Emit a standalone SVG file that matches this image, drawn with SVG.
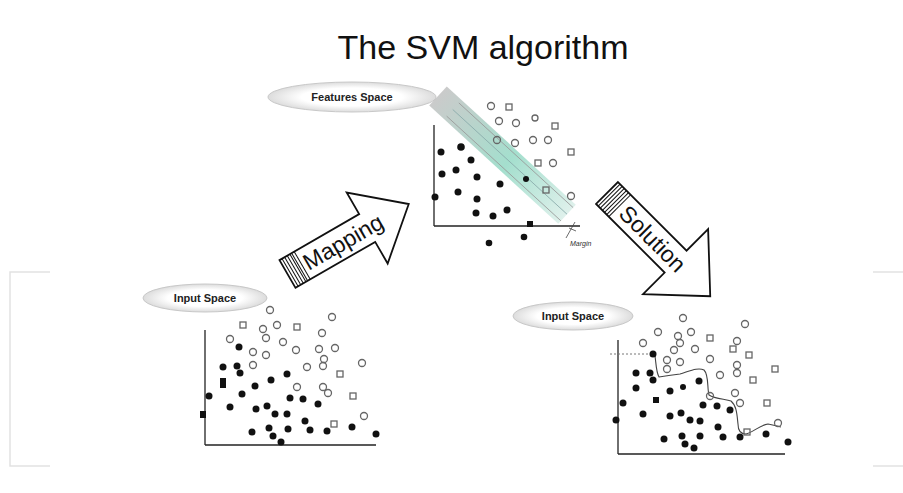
<svg xmlns="http://www.w3.org/2000/svg" width="903" height="493" viewBox="0 0 903 493">
<defs>
<style>
.title{font-family:"Liberation Sans",Arial,sans-serif;font-size:34px;fill:#111}
.lbl{font-family:"Liberation Sans",Arial,sans-serif;font-size:11px;font-weight:bold;fill:#222}
.big{font-family:"Liberation Sans",Arial,sans-serif;font-size:23px;fill:#111}
.ax{stroke:#222;stroke-width:1.3;fill:none}
.f{fill:#111}
.o{fill:none;stroke:#666;stroke-width:1.3}
.arr{fill:#fff;stroke:#111;stroke-width:1.8;stroke-linejoin:miter}
.str{stroke:#111;stroke-width:1}
.frame{stroke:#e2e2e2;stroke-width:1.5;fill:none}
.ell{fill:url(#eg);stroke:#c8c8c8;stroke-width:1}
</style>
<radialGradient id="eg" cx="0.5" cy="0.5" r="0.5">
<stop offset="0.6" stop-color="#ffffff"/>
<stop offset="1" stop-color="#dcdcdc"/>
</radialGradient>
<linearGradient id="band" x1="0" y1="0" x2="1" y2="0">
<stop offset="0" stop-color="#b9b9b9"/>
<stop offset="0.55" stop-color="#86d4bd"/>
<stop offset="1" stop-color="#d4ece5"/>
</linearGradient>
</defs>
<rect width="903" height="493" fill="#fff"/>

<g id="frame">
<path class="frame" d="M50,272 H10 V466 H50"/>
<path class="frame" d="M873,272 H903 M873,466 H903"/>
</g>

<text class="title" x="483" y="59" text-anchor="middle">The SVM algorithm</text>

<g id="features-space">
<ellipse class="ell" cx="352" cy="97" rx="84" ry="15"/>
<text class="lbl" x="352" y="101" text-anchor="middle">Features Space</text>
</g>

<g id="features-plot">
<g transform="translate(438,96) rotate(42.5)">
<rect x="0" y="-13" width="175" height="26" fill="url(#band)" opacity="0.75"/>
<line x1="20" y1="-9" x2="175" y2="-9" stroke="#999" stroke-width="0.8"/>
<line x1="20" y1="0" x2="175" y2="0" stroke="#8aa" stroke-width="0.8"/>
<line x1="20" y1="9" x2="175" y2="9" stroke="#999" stroke-width="0.8"/>
</g>
<path class="ax" d="M434,226 V125"/>
<path class="ax" d="M434,226 H580"/>
<circle class="f" cx="441" cy="152" r="3.5"/><circle class="f" cx="461" cy="147" r="3.8"/>
<circle class="f" cx="471" cy="160" r="3.5"/><circle class="f" cx="442" cy="174" r="3.5"/>
<circle class="f" cx="456" cy="170" r="3.5"/><circle class="f" cx="477" cy="177" r="3.5"/>
<circle class="f" cx="500" cy="184" r="3.5"/><circle class="f" cx="526" cy="179" r="3"/>
<circle class="f" cx="435" cy="197" r="3.5"/><circle class="f" cx="458" cy="192" r="3.5"/>
<circle class="f" cx="477" cy="199" r="3.5"/><circle class="f" cx="476" cy="213" r="3.5"/>
<circle class="f" cx="493" cy="216" r="3.5"/><circle class="f" cx="507" cy="210" r="3.5"/>
<rect class="f" x="527" y="221" width="6" height="6"/><circle class="f" cx="524" cy="237" r="3.3"/>
<circle class="f" cx="489" cy="243" r="3.3"/>
<circle class="o" cx="491" cy="106" r="3.5"/><rect class="o" x="506" y="104" width="6" height="6"/>
<circle class="o" cx="499" cy="121" r="3.5"/><circle class="o" cx="516" cy="123" r="3.5"/>
<circle class="o" cx="535" cy="118" r="3"/><rect class="o" x="552" y="123" width="6" height="6"/>
<circle class="o" cx="497" cy="140" r="3.5"/><circle class="o" cx="515" cy="143" r="3.5"/>
<circle class="o" cx="533" cy="140" r="3.5"/><circle class="o" cx="548" cy="140" r="3.5"/>
<rect class="o" x="568" y="149" width="6" height="6"/><rect class="o" x="535" y="160" width="6" height="6"/>
<circle class="o" cx="553" cy="163" r="3.5"/><rect class="o" x="543" y="187" width="6" height="6"/>
<circle class="o" cx="571" cy="196" r="3.5"/>
<path d="M566,238 L575,222" stroke="#444" stroke-width="0.8"/>
<path d="M569,228 L576,231" stroke="#444" stroke-width="0.8"/>
<text x="570" y="246" font-family="Liberation Sans,Arial,sans-serif" font-size="7" font-style="italic" fill="#333">Margin</text>
</g>

<g id="mapping-arrow" transform="translate(287.5,274) rotate(-30)">
<path class="arr" d="M0,-16 H92 V-41 L140,0 L92,41 V16 H0 Z"/>
<line class="str" x1="3" y1="-16" x2="3" y2="16"/>
<line class="str" x1="6" y1="-16" x2="6" y2="16"/>
<line class="str" x1="9" y1="-16" x2="9" y2="16"/>
<line class="str" x1="12" y1="-16" x2="12" y2="16"/>
<line class="str" x1="14" y1="-16" x2="14" y2="16"/>
<line class="str" x1="17" y1="-16" x2="17" y2="16"/>
<text class="big" x="20" y="8">Mapping</text>
</g>

<g id="solution-arrow" transform="translate(607,193) rotate(45)">
<path class="arr" d="M0,-15.5 H97 V-46 L146,0 L97,46 V15.5 H0 Z"/>
<line class="str" x1="3" y1="-15.5" x2="3" y2="15.5"/>
<line class="str" x1="6" y1="-15.5" x2="6" y2="15.5"/>
<line class="str" x1="9" y1="-15.5" x2="9" y2="15.5"/>
<line class="str" x1="12" y1="-15.5" x2="12" y2="15.5"/>
<line class="str" x1="15" y1="-15.5" x2="15" y2="15.5"/>
<line class="str" x1="18" y1="-15.5" x2="18" y2="15.5"/>
<text class="big" x="23" y="8">Solution</text>
</g>

<g id="input-space-left">
<ellipse class="ell" cx="205" cy="298" rx="62" ry="14"/>
<text class="lbl" x="205" y="302" text-anchor="middle">Input Space</text>
</g>

<g id="input-plot-left">
<path class="ax" d="M205,445 V330"/>
<path class="ax" d="M205,445 H376"/>
<circle class="f" cx="239" cy="347" r="3.5"/><circle class="f" cx="223" cy="367" r="3.5"/>
<circle class="f" cx="237" cy="366" r="3.5"/><circle class="f" cx="240" cy="373" r="3.5"/>
<rect class="f" x="220" y="378" width="6" height="10"/><circle class="f" cx="255" cy="386" r="3.5"/>
<circle class="f" cx="271" cy="380" r="3.5"/><circle class="f" cx="287" cy="374" r="3.5"/>
<circle class="f" cx="209" cy="396" r="3.5"/><circle class="f" cx="242" cy="394" r="3.5"/>
<circle class="f" cx="230" cy="407" r="3.5"/><circle class="f" cx="256" cy="409" r="3.5"/>
<circle class="f" cx="267" cy="406" r="3.5"/><circle class="f" cx="275" cy="414" r="3.5"/>
<circle class="f" cx="287" cy="414" r="3.5"/><circle class="f" cx="290" cy="398" r="3.5"/>
<circle class="f" cx="303" cy="399" r="3.5"/><circle class="f" cx="318" cy="404" r="3.5"/>
<rect class="f" x="200" y="411" width="6" height="7"/><circle class="f" cx="305" cy="421" r="3.5"/>
<circle class="f" cx="252" cy="432" r="3.5"/><circle class="f" cx="269" cy="428" r="3.5"/>
<circle class="f" cx="288" cy="429" r="3.5"/><circle class="f" cx="310" cy="430" r="3.5"/>
<circle class="f" cx="327" cy="431" r="3.5"/><circle class="f" cx="352" cy="427" r="3.5"/>
<circle class="f" cx="273" cy="436" r="3.5"/><circle class="f" cx="281" cy="442" r="3.5"/>
<circle class="f" cx="376" cy="434" r="3.5"/>
<circle class="o" cx="270" cy="310" r="3.5"/><circle class="o" cx="332" cy="317" r="3.5"/>
<rect class="o" x="240" y="322" width="6" height="6"/><circle class="o" cx="263" cy="329" r="3.5"/>
<circle class="o" cx="277" cy="325" r="3.5"/><rect class="o" x="294" y="324" width="6" height="6"/>
<circle class="o" cx="322" cy="333" r="3.5"/><circle class="o" cx="230" cy="339" r="3.5"/>
<circle class="o" cx="266" cy="338" r="3.5"/><circle class="o" cx="283" cy="342" r="3.5"/>
<circle class="o" cx="296" cy="350" r="3.5"/><circle class="o" cx="319" cy="349" r="3.5"/>
<circle class="o" cx="335" cy="348" r="3.5"/><circle class="o" cx="253" cy="352" r="3.5"/>
<circle class="o" cx="266" cy="355" r="3.5"/><circle class="o" cx="324" cy="359" r="3.5"/>
<circle class="o" cx="362" cy="363" r="3.5"/><circle class="o" cx="253" cy="365" r="3.5"/>
<circle class="o" cx="307" cy="367" r="3.5"/><circle class="o" cx="323" cy="366" r="3.5"/>
<rect class="o" x="337" y="371" width="6" height="6"/><circle class="o" cx="297" cy="387" r="3.5"/>
<circle class="o" cx="323" cy="387" r="3.5"/><circle class="o" cx="328" cy="393" r="3.5"/>
<rect class="o" x="350" y="393" width="6" height="6"/><circle class="o" cx="364" cy="416" r="3.5"/>
<rect class="o" x="331" y="421" width="6" height="6"/>
</g>

<g id="input-space-right">
<ellipse class="ell" cx="573" cy="316" rx="60" ry="14"/>
<text class="lbl" x="573" y="320" text-anchor="middle">Input Space</text>
</g>

<g id="input-plot-right">
<path class="ax" d="M618,454 V340"/>
<path class="ax" d="M618,454 H785"/>
<path d="M610,354 H652" stroke="#777" stroke-width="1" stroke-dasharray="2,2"/>
<path d="M655,356 C656,362 656,372 659,377 C665,376 672,375 680,374 C690,371 698,367 704,370 C709,375 707,388 709,395 C715,399 725,399 731,401 C737,406 737,416 738,424 C738,430 740,434 746,434 C752,433 760,425 768,424 C773,425 777,426 781,427" fill="none" stroke="#444" stroke-width="1.1"/>
<circle class="f" cx="653" cy="354" r="3.5"/><circle class="f" cx="636" cy="373" r="3.5"/>
<circle class="f" cx="650" cy="373" r="3.5"/><circle class="f" cx="653" cy="380" r="3.5"/>
<circle class="f" cx="636" cy="388" r="3.5"/><circle class="f" cx="670" cy="391" r="3.5"/>
<circle class="f" cx="683" cy="387" r="3"/><circle class="f" cx="699" cy="381" r="3.5"/>
<rect class="f" x="653" y="397" width="6" height="6"/><circle class="f" cx="623" cy="403" r="3.5"/>
<circle class="f" cx="643" cy="414" r="3.5"/><circle class="f" cx="670" cy="416" r="3.5"/>
<circle class="f" cx="681" cy="413" r="3.5"/><circle class="f" cx="690" cy="420" r="3.5"/>
<circle class="f" cx="700" cy="421" r="3.5"/><circle class="f" cx="703" cy="405" r="3.5"/>
<circle class="f" cx="717" cy="406" r="3.5"/><circle class="f" cx="730" cy="410" r="3.5"/>
<circle class="f" cx="616" cy="420" r="3.5"/><circle class="f" cx="718" cy="427" r="3.5"/>
<circle class="f" cx="664" cy="439" r="3.5"/><circle class="f" cx="682" cy="436" r="3.5"/>
<circle class="f" cx="700" cy="436" r="3.5"/><circle class="f" cx="723" cy="437" r="3.5"/>
<circle class="f" cx="740" cy="437" r="3.5"/><circle class="f" cx="766" cy="434" r="3.5"/>
<circle class="f" cx="685" cy="444" r="3.5"/><circle class="f" cx="694" cy="448" r="3.5"/>
<circle class="f" cx="788" cy="442" r="3.5"/>
<circle class="o" cx="683" cy="318" r="3.5"/><circle class="o" cx="745" cy="324" r="3.5"/>
<circle class="o" cx="658" cy="332" r="3.5"/><circle class="o" cx="678" cy="336" r="3.5"/>
<circle class="o" cx="691" cy="332" r="3.5"/><rect class="o" x="707" y="335" width="6" height="6"/>
<circle class="o" cx="737" cy="341" r="3.5"/><circle class="o" cx="643" cy="343" r="3.5"/>
<circle class="o" cx="680" cy="343" r="3.5"/><circle class="o" cx="674" cy="350" r="3.5"/>
<circle class="o" cx="695" cy="349" r="3.5"/><circle class="o" cx="710" cy="359" r="3.5"/>
<rect class="o" x="730" y="346" width="6" height="6"/><rect class="o" x="746" y="352" width="6" height="6"/>
<circle class="o" cx="667" cy="360" r="3.5"/><circle class="o" cx="680" cy="362" r="3.5"/>
<circle class="o" cx="667" cy="369" r="3.5"/><circle class="o" cx="737" cy="365" r="3.5"/>
<circle class="o" cx="737" cy="373" r="3.5"/><circle class="o" cx="720" cy="375" r="3.5"/>
<rect class="o" x="772" y="366" width="6" height="6"/><rect class="o" x="750" y="377" width="6" height="6"/>
<circle class="o" cx="710" cy="396" r="3.5"/><circle class="o" cx="735" cy="393" r="3.5"/>
<rect class="o" x="764" y="400" width="6" height="6"/><circle class="o" cx="740" cy="403" r="3.5"/>
<circle class="o" cx="778" cy="423" r="3.5"/><rect class="o" x="744" y="429" width="6" height="6"/>
</g>
</svg>
